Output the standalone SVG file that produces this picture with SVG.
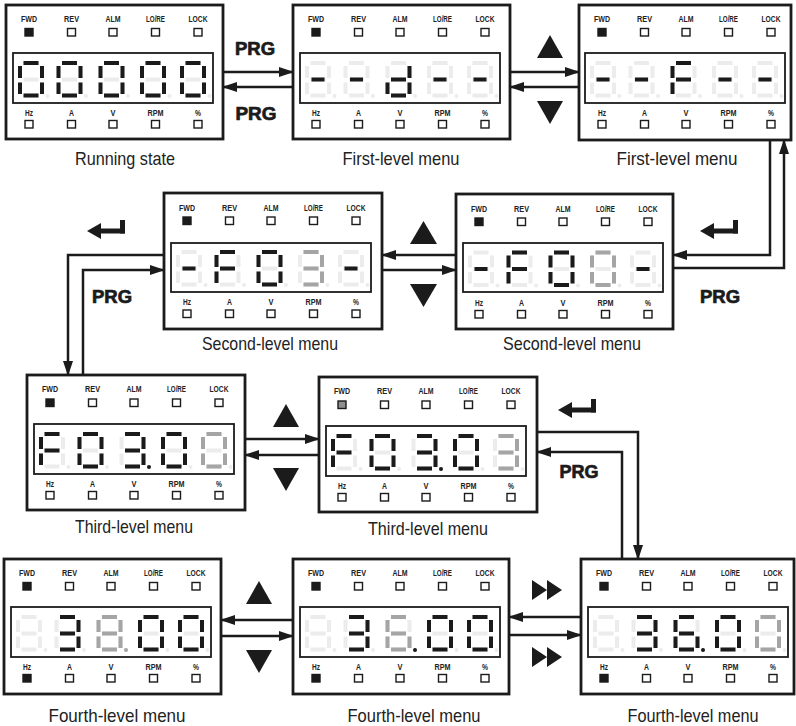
<svg xmlns="http://www.w3.org/2000/svg" width="796" height="726" viewBox="0 0 796 726">
<style>
.frame{fill:#fff;stroke:#1b1b1b;stroke-width:2.8}
.disp{fill:#fff;stroke:#1b1b1b;stroke-width:1.8}
.lbl{font-family:"Liberation Sans",Arial,sans-serif;font-weight:bold;font-size:9.5px;fill:#222;text-anchor:middle}
.ind{fill:#fff;stroke:#1b1b1b;stroke-width:1.4}
.on{fill:#1b1b1b}
.gr{fill:#8f8f8f}
.k{fill:#1b1b1b}
.m{fill:#a5a5a5}
.cap{font-family:"Liberation Sans",Arial,sans-serif;font-size:19px;fill:#222;text-anchor:middle}
.prg{font-family:"Liberation Sans",Arial,sans-serif;font-weight:bold;font-size:18px;fill:#1b1b1b;stroke:#1b1b1b;stroke-width:0.7;text-anchor:middle}
.cn{fill:none;stroke:#1b1b1b;stroke-width:2.5;marker-end:url(#ah)}
.ic{fill:#1b1b1b}
</style>
<defs>
<marker id="ah" viewBox="0 0 15 10" markerWidth="15" markerHeight="10" refX="14" refY="5" orient="auto" markerUnits="userSpaceOnUse"><path d="M0,0 L15,5 L0,10 Z" fill="#1b1b1b"/></marker>
<g id="g8"><rect x="5.5" y="0" width="15" height="4"/><rect x="0" y="5" width="4" height="12"/><rect x="22" y="5" width="4" height="12"/><rect x="5.5" y="16.5" width="15" height="4"/><rect x="0" y="21.5" width="4" height="11.5"/><rect x="22" y="21.5" width="4" height="11.5"/><rect x="5.5" y="32.5" width="15" height="4"/></g>
<g id="base" fill="#ececec"><use href="#g8"/><circle cx="29.5" cy="35" r="2"/></g>
<g id="g0"><rect x="5.5" y="0" width="15" height="4"/><rect x="0" y="5" width="4" height="12"/><rect x="22" y="5" width="4" height="12"/><rect x="0" y="21.5" width="4" height="11.5"/><rect x="22" y="21.5" width="4" height="11.5"/><rect x="5.5" y="32.5" width="15" height="4"/></g>
<g id="g3"><rect x="5.5" y="0" width="15" height="4"/><rect x="22" y="5" width="4" height="12"/><rect x="5.5" y="16.5" width="15" height="4"/><rect x="22" y="21.5" width="4" height="11.5"/><rect x="5.5" y="32.5" width="15" height="4"/></g>
<g id="g6"><rect x="5.5" y="0" width="15" height="4"/><rect x="0" y="5" width="4" height="12"/><rect x="5.5" y="16.5" width="15" height="4"/><rect x="0" y="21.5" width="4" height="11.5"/><rect x="22" y="21.5" width="4" height="11.5"/><rect x="5.5" y="32.5" width="15" height="4"/></g>
<g id="gF"><rect x="5.5" y="0" width="15" height="4"/><rect x="0" y="5" width="4" height="12"/><rect x="5.5" y="16.5" width="15" height="4"/><rect x="0" y="21.5" width="4" height="11.5"/></g>
<g id="gd"><rect x="22" y="5" width="4" height="12"/><rect x="5.5" y="16.5" width="15" height="4"/><rect x="0" y="21.5" width="4" height="11.5"/><rect x="22" y="21.5" width="4" height="11.5"/><rect x="5.5" y="32.5" width="15" height="4"/></g>
<g id="gm"><rect x="6.5" y="16.5" width="13" height="4"/></g>
<circle id="gdp" cx="29.5" cy="35" r="2"/>
<g id="enter"><path d="M0,11 L14,3 L14,19 Z"/><rect x="13" y="8.5" width="25" height="5"/><rect x="33" y="0" width="5" height="13.5"/></g>
<path id="ff" d="M0,0 L15,10 L0,20 Z M15,0 L30,10 L15,20 Z"/>
</defs>
<rect width="796" height="726" fill="#fff"/>

<g id="connectors">
<path class="cn" d="M223,72 H293"/>
<path class="cn" d="M293,87 H223"/>
<path class="cn" d="M510,72 H579"/>
<path class="cn" d="M579,87 H510"/>
<path class="cn" d="M770,140 V255 H673"/>
<path class="cn" d="M673,268 H784 V140"/>
<path class="cn" d="M456,255 H382"/>
<path class="cn" d="M382,270 H456"/>
<path class="cn" d="M164,255 H68 V375"/>
<path class="cn" d="M83,375 V270 H164"/>
<path class="cn" d="M245,439 H319"/>
<path class="cn" d="M319,455 H245"/>
<path class="cn" d="M537,432 H638 V559"/>
<path class="cn" d="M622,559 V452 H537"/>
<path class="cn" d="M581,617 H509"/>
<path class="cn" d="M509,635 H581"/>
<path class="cn" d="M293,620 H221"/>
<path class="cn" d="M221,636 H293"/>
</g>

<g id="connector-labels">
<text class="prg" x="255" y="55" textLength="40" lengthAdjust="spacingAndGlyphs">PRG</text>
<text class="prg" x="256" y="120" textLength="41" lengthAdjust="spacingAndGlyphs">PRG</text>
<path class="ic" d="M537,58 L550,35 L563,58 Z"/>
<path class="ic" d="M537,101 L563,101 L550,124 Z"/>
<use class="ic" href="#enter" x="700" y="220"/>
<text class="prg" x="720" y="303" textLength="40" lengthAdjust="spacingAndGlyphs">PRG</text>
<path class="ic" d="M410,244 L423.5,221 L437,244 Z"/>
<path class="ic" d="M410,284 L437,284 L423.5,307 Z"/>
<use class="ic" href="#enter" x="87" y="220"/>
<text class="prg" x="112" y="303" textLength="40" lengthAdjust="spacingAndGlyphs">PRG</text>
<path class="ic" d="M273,427 L286,404 L299,427 Z"/>
<path class="ic" d="M273,468 L299,468 L286,491 Z"/>
<use class="ic" href="#enter" x="558" y="399"/>
<text class="prg" x="579" y="478" textLength="39" lengthAdjust="spacingAndGlyphs">PRG</text>
<use class="ic" href="#ff" x="532" y="580"/>
<use class="ic" href="#ff" x="532" y="647"/>
<path class="ic" d="M246,604 L259,581 L272,604 Z"/>
<path class="ic" d="M246,650 L272,650 L259,673 Z"/>
</g>

<g id="running-state">
<g transform="translate(6,5)">
<rect class="frame" width="217" height="134"/>
<text class="lbl" x="23" y="16.5" textLength="16" lengthAdjust="spacingAndGlyphs">FWD</text><text class="lbl" x="65.5" y="16.5" textLength="15" lengthAdjust="spacingAndGlyphs">REV</text><text class="lbl" x="107" y="16.5" textLength="15" lengthAdjust="spacingAndGlyphs">ALM</text><text class="lbl" x="149.5" y="16.5" textLength="19" lengthAdjust="spacingAndGlyphs">LO/RE</text><text class="lbl" x="192" y="16.5" textLength="19" lengthAdjust="spacingAndGlyphs">LOCK</text>
<rect class="ind on" x="19" y="23.5" width="8" height="7.5"/><rect class="ind" x="61.5" y="23.5" width="8" height="7.5"/><rect class="ind" x="103" y="23.5" width="8" height="7.5"/><rect class="ind" x="145.5" y="23.5" width="8" height="7.5"/><rect class="ind" x="188" y="23.5" width="8" height="7.5"/>
<rect class="disp" x="7" y="48" width="200" height="50"/>
<use href="#base" x="12" y="56"/><use href="#base" x="50.5" y="56"/><use href="#base" x="92.5" y="56"/><use href="#base" x="134" y="56"/><use href="#base" x="174" y="56"/>
<use class="k" href="#g0" x="12" y="56"/><use class="k" href="#g0" x="50.5" y="56"/><use class="k" href="#g0" x="92.5" y="56"/><use class="k" href="#g0" x="134" y="56"/><use class="k" href="#g0" x="174" y="56"/>
<text class="lbl" x="23" y="111" textLength="8" lengthAdjust="spacingAndGlyphs">Hz</text><text class="lbl" x="65.5" y="111" textLength="5" lengthAdjust="spacingAndGlyphs">A</text><text class="lbl" x="107" y="111" textLength="5" lengthAdjust="spacingAndGlyphs">V</text><text class="lbl" x="149.5" y="111" textLength="16" lengthAdjust="spacingAndGlyphs">RPM</text><text class="lbl" x="192" y="111" textLength="6" lengthAdjust="spacingAndGlyphs">%</text>
<rect class="ind" x="19" y="115.5" width="8" height="7.5"/><rect class="ind" x="61.5" y="115.5" width="8" height="7.5"/><rect class="ind" x="103" y="115.5" width="8" height="7.5"/><rect class="ind" x="145.5" y="115.5" width="8" height="7.5"/><rect class="ind" x="188" y="115.5" width="8" height="7.5"/>
</g>
<text class="cap" x="125" y="165" textLength="100" lengthAdjust="spacingAndGlyphs">Running state</text>
</g>

<g id="first-level-1">
<g transform="translate(293,5)">
<rect class="frame" width="217" height="134"/>
<text class="lbl" x="23" y="16.5" textLength="16" lengthAdjust="spacingAndGlyphs">FWD</text><text class="lbl" x="65.5" y="16.5" textLength="15" lengthAdjust="spacingAndGlyphs">REV</text><text class="lbl" x="107" y="16.5" textLength="15" lengthAdjust="spacingAndGlyphs">ALM</text><text class="lbl" x="149.5" y="16.5" textLength="19" lengthAdjust="spacingAndGlyphs">LO/RE</text><text class="lbl" x="192" y="16.5" textLength="19" lengthAdjust="spacingAndGlyphs">LOCK</text>
<rect class="ind on" x="19" y="23.5" width="8" height="7.5"/><rect class="ind" x="61.5" y="23.5" width="8" height="7.5"/><rect class="ind" x="103" y="23.5" width="8" height="7.5"/><rect class="ind" x="145.5" y="23.5" width="8" height="7.5"/><rect class="ind" x="188" y="23.5" width="8" height="7.5"/>
<rect class="disp" x="7" y="48" width="200" height="50"/>
<use href="#base" x="12" y="56"/><use href="#base" x="50.5" y="56"/><use href="#base" x="92.5" y="56"/><use href="#base" x="134" y="56"/><use href="#base" x="174" y="56"/>
<use class="k" href="#gm" x="12" y="56"/><use class="k" href="#gm" x="50.5" y="56"/><use class="k" href="#gd" x="92.5" y="56"/><use class="k" href="#gm" x="134" y="56"/><use class="k" href="#gm" x="174" y="56"/>
<text class="lbl" x="23" y="111" textLength="8" lengthAdjust="spacingAndGlyphs">Hz</text><text class="lbl" x="65.5" y="111" textLength="5" lengthAdjust="spacingAndGlyphs">A</text><text class="lbl" x="107" y="111" textLength="5" lengthAdjust="spacingAndGlyphs">V</text><text class="lbl" x="149.5" y="111" textLength="16" lengthAdjust="spacingAndGlyphs">RPM</text><text class="lbl" x="192" y="111" textLength="6" lengthAdjust="spacingAndGlyphs">%</text>
<rect class="ind" x="19" y="115.5" width="8" height="7.5"/><rect class="ind" x="61.5" y="115.5" width="8" height="7.5"/><rect class="ind" x="103" y="115.5" width="8" height="7.5"/><rect class="ind" x="145.5" y="115.5" width="8" height="7.5"/><rect class="ind" x="188" y="115.5" width="8" height="7.5"/>
</g>
<text class="cap" x="401" y="165" textLength="117" lengthAdjust="spacingAndGlyphs">First-level menu</text>
</g>

<g id="first-level-2">
<g transform="translate(579,5)">
<rect class="frame" width="212" height="135"/>
<text class="lbl" x="23" y="16.5" textLength="16" lengthAdjust="spacingAndGlyphs">FWD</text><text class="lbl" x="65.5" y="16.5" textLength="15" lengthAdjust="spacingAndGlyphs">REV</text><text class="lbl" x="107" y="16.5" textLength="15" lengthAdjust="spacingAndGlyphs">ALM</text><text class="lbl" x="149.5" y="16.5" textLength="19" lengthAdjust="spacingAndGlyphs">LO/RE</text><text class="lbl" x="192" y="16.5" textLength="19" lengthAdjust="spacingAndGlyphs">LOCK</text>
<rect class="ind on" x="19" y="23.5" width="8" height="7.5"/><rect class="ind" x="61.5" y="23.5" width="8" height="7.5"/><rect class="ind" x="103" y="23.5" width="8" height="7.5"/><rect class="ind" x="145.5" y="23.5" width="8" height="7.5"/><rect class="ind" x="188" y="23.5" width="8" height="7.5"/>
<rect class="disp" x="6" y="48" width="200" height="50"/>
<use href="#base" x="11" y="56"/><use href="#base" x="49.5" y="56"/><use href="#base" x="91.5" y="56"/><use href="#base" x="133" y="56"/><use href="#base" x="173" y="56"/>
<use class="k" href="#gm" x="11" y="56"/><use class="k" href="#gm" x="49.5" y="56"/><use class="k" href="#gF" x="91.5" y="56"/><use class="k" href="#gm" x="133" y="56"/><use class="k" href="#gm" x="173" y="56"/>
<text class="lbl" x="23" y="111" textLength="8" lengthAdjust="spacingAndGlyphs">Hz</text><text class="lbl" x="65.5" y="111" textLength="5" lengthAdjust="spacingAndGlyphs">A</text><text class="lbl" x="107" y="111" textLength="5" lengthAdjust="spacingAndGlyphs">V</text><text class="lbl" x="149.5" y="111" textLength="16" lengthAdjust="spacingAndGlyphs">RPM</text><text class="lbl" x="192" y="111" textLength="6" lengthAdjust="spacingAndGlyphs">%</text>
<rect class="ind" x="19" y="115.5" width="8" height="7.5"/><rect class="ind" x="61.5" y="115.5" width="8" height="7.5"/><rect class="ind" x="103" y="115.5" width="8" height="7.5"/><rect class="ind" x="145.5" y="115.5" width="8" height="7.5"/><rect class="ind" x="188" y="115.5" width="8" height="7.5"/>
</g>
<text class="cap" x="677" y="165" textLength="121" lengthAdjust="spacingAndGlyphs">First-level menu</text>
</g>

<g id="second-level-1">
<g transform="translate(164,193)">
<rect class="frame" width="218" height="136"/>
<text class="lbl" x="23" y="17.5" textLength="16" lengthAdjust="spacingAndGlyphs">FWD</text><text class="lbl" x="65.5" y="17.5" textLength="15" lengthAdjust="spacingAndGlyphs">REV</text><text class="lbl" x="107" y="17.5" textLength="15" lengthAdjust="spacingAndGlyphs">ALM</text><text class="lbl" x="149.5" y="17.5" textLength="19" lengthAdjust="spacingAndGlyphs">LO/RE</text><text class="lbl" x="192" y="17.5" textLength="19" lengthAdjust="spacingAndGlyphs">LOCK</text>
<rect class="ind on" x="19" y="24" width="8" height="7.5"/><rect class="ind" x="61.5" y="24" width="8" height="7.5"/><rect class="ind" x="103" y="24" width="8" height="7.5"/><rect class="ind" x="145.5" y="24" width="8" height="7.5"/><rect class="ind" x="188" y="24" width="8" height="7.5"/>
<rect class="disp" x="7" y="50" width="200" height="49"/>
<use href="#base" x="12" y="57"/><use href="#base" x="50.5" y="57"/><use href="#base" x="92.5" y="57"/><use href="#base" x="134" y="57"/><use href="#base" x="174" y="57"/>
<use class="k" href="#gm" x="12" y="57"/><use class="k" href="#gF" x="50.5" y="57"/><use class="k" href="#g0" x="92.5" y="57"/><use class="m" href="#g3" x="134" y="57"/><use class="k" href="#gm" x="174" y="57"/>
<text class="lbl" x="23" y="112" textLength="8" lengthAdjust="spacingAndGlyphs">Hz</text><text class="lbl" x="65.5" y="112" textLength="5" lengthAdjust="spacingAndGlyphs">A</text><text class="lbl" x="107" y="112" textLength="5" lengthAdjust="spacingAndGlyphs">V</text><text class="lbl" x="149.5" y="112" textLength="16" lengthAdjust="spacingAndGlyphs">RPM</text><text class="lbl" x="192" y="112" textLength="6" lengthAdjust="spacingAndGlyphs">%</text>
<rect class="ind" x="19" y="117" width="8" height="7.5"/><rect class="ind" x="61.5" y="117" width="8" height="7.5"/><rect class="ind" x="103" y="117" width="8" height="7.5"/><rect class="ind" x="145.5" y="117" width="8" height="7.5"/><rect class="ind" x="188" y="117" width="8" height="7.5"/>
</g>
<text class="cap" x="270" y="350" textLength="136" lengthAdjust="spacingAndGlyphs">Second-level menu</text>
</g>

<g id="second-level-2">
<g transform="translate(456,194)">
<rect class="frame" width="217" height="135"/>
<text class="lbl" x="23" y="17.5" textLength="16" lengthAdjust="spacingAndGlyphs">FWD</text><text class="lbl" x="65.5" y="17.5" textLength="15" lengthAdjust="spacingAndGlyphs">REV</text><text class="lbl" x="107" y="17.5" textLength="15" lengthAdjust="spacingAndGlyphs">ALM</text><text class="lbl" x="149.5" y="17.5" textLength="19" lengthAdjust="spacingAndGlyphs">LO/RE</text><text class="lbl" x="192" y="17.5" textLength="19" lengthAdjust="spacingAndGlyphs">LOCK</text>
<rect class="ind on" x="19" y="24" width="8" height="7.5"/><rect class="ind" x="61.5" y="24" width="8" height="7.5"/><rect class="ind" x="103" y="24" width="8" height="7.5"/><rect class="ind" x="145.5" y="24" width="8" height="7.5"/><rect class="ind" x="188" y="24" width="8" height="7.5"/>
<rect class="disp" x="7" y="49" width="200" height="49"/>
<use href="#base" x="12" y="56.5"/><use href="#base" x="50.5" y="56.5"/><use href="#base" x="92.5" y="56.5"/><use href="#base" x="134" y="56.5"/><use href="#base" x="174" y="56.5"/>
<use class="k" href="#gm" x="12" y="56.5"/><use class="k" href="#gF" x="50.5" y="56.5"/><use class="k" href="#g0" x="92.5" y="56.5"/><use class="m" href="#g0" x="134" y="56.5"/><use class="k" href="#gm" x="174" y="56.5"/>
<text class="lbl" x="23" y="112" textLength="8" lengthAdjust="spacingAndGlyphs">Hz</text><text class="lbl" x="65.5" y="112" textLength="5" lengthAdjust="spacingAndGlyphs">A</text><text class="lbl" x="107" y="112" textLength="5" lengthAdjust="spacingAndGlyphs">V</text><text class="lbl" x="149.5" y="112" textLength="16" lengthAdjust="spacingAndGlyphs">RPM</text><text class="lbl" x="192" y="112" textLength="6" lengthAdjust="spacingAndGlyphs">%</text>
<rect class="ind" x="19" y="116.5" width="8" height="7.5"/><rect class="ind" x="61.5" y="116.5" width="8" height="7.5"/><rect class="ind" x="103" y="116.5" width="8" height="7.5"/><rect class="ind" x="145.5" y="116.5" width="8" height="7.5"/><rect class="ind" x="188" y="116.5" width="8" height="7.5"/>
</g>
<text class="cap" x="572" y="350" textLength="138" lengthAdjust="spacingAndGlyphs">Second-level menu</text>
</g>

<g id="third-level-1">
<g transform="translate(27,375)">
<rect class="frame" width="218" height="135"/>
<text class="lbl" x="23" y="17" textLength="16" lengthAdjust="spacingAndGlyphs">FWD</text><text class="lbl" x="65.5" y="17" textLength="15" lengthAdjust="spacingAndGlyphs">REV</text><text class="lbl" x="107" y="17" textLength="15" lengthAdjust="spacingAndGlyphs">ALM</text><text class="lbl" x="149.5" y="17" textLength="19" lengthAdjust="spacingAndGlyphs">LO/RE</text><text class="lbl" x="192" y="17" textLength="19" lengthAdjust="spacingAndGlyphs">LOCK</text>
<rect class="ind on" x="19" y="24" width="8" height="7.5"/><rect class="ind" x="61.5" y="24" width="8" height="7.5"/><rect class="ind" x="103" y="24" width="8" height="7.5"/><rect class="ind" x="145.5" y="24" width="8" height="7.5"/><rect class="ind" x="188" y="24" width="8" height="7.5"/>
<rect class="disp" x="7" y="49" width="200" height="50"/>
<use href="#base" x="12" y="57"/><use href="#base" x="50.5" y="57"/><use href="#base" x="92.5" y="57"/><use href="#base" x="134" y="57"/><use href="#base" x="174" y="57"/>
<use class="k" href="#gF" x="12" y="57"/><use class="k" href="#g0" x="50.5" y="57"/><use class="k" href="#g3" x="92.5" y="57"/><use class="k" href="#gdp" x="92.5" y="57"/><use class="k" href="#g0" x="134" y="57"/><use class="m" href="#g0" x="174" y="57"/>
<text class="lbl" x="23" y="112" textLength="8" lengthAdjust="spacingAndGlyphs">Hz</text><text class="lbl" x="65.5" y="112" textLength="5" lengthAdjust="spacingAndGlyphs">A</text><text class="lbl" x="107" y="112" textLength="5" lengthAdjust="spacingAndGlyphs">V</text><text class="lbl" x="149.5" y="112" textLength="16" lengthAdjust="spacingAndGlyphs">RPM</text><text class="lbl" x="192" y="112" textLength="6" lengthAdjust="spacingAndGlyphs">%</text>
<rect class="ind" x="19" y="116.5" width="8" height="7.5"/><rect class="ind" x="61.5" y="116.5" width="8" height="7.5"/><rect class="ind" x="103" y="116.5" width="8" height="7.5"/><rect class="ind" x="145.5" y="116.5" width="8" height="7.5"/><rect class="ind" x="188" y="116.5" width="8" height="7.5"/>
</g>
<text class="cap" x="134" y="533" textLength="118" lengthAdjust="spacingAndGlyphs">Third-level menu</text>
</g>

<g id="third-level-2">
<g transform="translate(319,377)">
<rect class="frame" width="218" height="135"/>
<text class="lbl" x="23" y="17" textLength="16" lengthAdjust="spacingAndGlyphs">FWD</text><text class="lbl" x="65.5" y="17" textLength="15" lengthAdjust="spacingAndGlyphs">REV</text><text class="lbl" x="107" y="17" textLength="15" lengthAdjust="spacingAndGlyphs">ALM</text><text class="lbl" x="149.5" y="17" textLength="19" lengthAdjust="spacingAndGlyphs">LO/RE</text><text class="lbl" x="192" y="17" textLength="19" lengthAdjust="spacingAndGlyphs">LOCK</text>
<rect class="ind gr" x="19" y="24" width="8" height="7.5"/><rect class="ind" x="61.5" y="24" width="8" height="7.5"/><rect class="ind" x="103" y="24" width="8" height="7.5"/><rect class="ind" x="145.5" y="24" width="8" height="7.5"/><rect class="ind" x="188" y="24" width="8" height="7.5"/>
<rect class="disp" x="7" y="49" width="200" height="50"/>
<use href="#base" x="12" y="57"/><use href="#base" x="50.5" y="57"/><use href="#base" x="92.5" y="57"/><use href="#base" x="134" y="57"/><use href="#base" x="174" y="57"/>
<use class="k" href="#gF" x="12" y="57"/><use class="k" href="#g0" x="50.5" y="57"/><use class="k" href="#g3" x="92.5" y="57"/><use class="k" href="#gdp" x="92.5" y="57"/><use class="k" href="#g0" x="134" y="57"/><use class="m" href="#g3" x="174" y="57"/>
<text class="lbl" x="23" y="112" textLength="8" lengthAdjust="spacingAndGlyphs">Hz</text><text class="lbl" x="65.5" y="112" textLength="5" lengthAdjust="spacingAndGlyphs">A</text><text class="lbl" x="107" y="112" textLength="5" lengthAdjust="spacingAndGlyphs">V</text><text class="lbl" x="149.5" y="112" textLength="16" lengthAdjust="spacingAndGlyphs">RPM</text><text class="lbl" x="192" y="112" textLength="6" lengthAdjust="spacingAndGlyphs">%</text>
<rect class="ind" x="19" y="116.5" width="8" height="7.5"/><rect class="ind" x="61.5" y="116.5" width="8" height="7.5"/><rect class="ind" x="103" y="116.5" width="8" height="7.5"/><rect class="ind" x="145.5" y="116.5" width="8" height="7.5"/><rect class="ind" x="188" y="116.5" width="8" height="7.5"/>
</g>
<text class="cap" x="428" y="535" textLength="120" lengthAdjust="spacingAndGlyphs">Third-level menu</text>
</g>

<g id="fourth-level-1">
<g transform="translate(4,559)">
<rect class="frame" width="217" height="135"/>
<text class="lbl" x="23" y="16.5" textLength="16" lengthAdjust="spacingAndGlyphs">FWD</text><text class="lbl" x="65.5" y="16.5" textLength="15" lengthAdjust="spacingAndGlyphs">REV</text><text class="lbl" x="107" y="16.5" textLength="15" lengthAdjust="spacingAndGlyphs">ALM</text><text class="lbl" x="149.5" y="16.5" textLength="19" lengthAdjust="spacingAndGlyphs">LO/RE</text><text class="lbl" x="192" y="16.5" textLength="19" lengthAdjust="spacingAndGlyphs">LOCK</text>
<rect class="ind on" x="19" y="23.5" width="8" height="7.5"/><rect class="ind" x="61.5" y="23.5" width="8" height="7.5"/><rect class="ind" x="103" y="23.5" width="8" height="7.5"/><rect class="ind" x="145.5" y="23.5" width="8" height="7.5"/><rect class="ind" x="188" y="23.5" width="8" height="7.5"/>
<rect class="disp" x="7" y="48" width="200" height="50"/>
<use href="#base" x="12" y="56"/><use href="#base" x="50.5" y="56"/><use href="#base" x="92.5" y="56"/><use href="#base" x="134" y="56"/><use href="#base" x="174" y="56"/>
<use class="k" href="#g3" x="50.5" y="56"/><use class="m" href="#g8" x="92.5" y="56"/><use class="m" href="#gdp" x="92.5" y="56"/><use class="k" href="#g0" x="134" y="56"/><use class="k" href="#g0" x="174" y="56"/>
<text class="lbl" x="23" y="111" textLength="8" lengthAdjust="spacingAndGlyphs">Hz</text><text class="lbl" x="65.5" y="111" textLength="5" lengthAdjust="spacingAndGlyphs">A</text><text class="lbl" x="107" y="111" textLength="5" lengthAdjust="spacingAndGlyphs">V</text><text class="lbl" x="149.5" y="111" textLength="16" lengthAdjust="spacingAndGlyphs">RPM</text><text class="lbl" x="192" y="111" textLength="6" lengthAdjust="spacingAndGlyphs">%</text>
<rect class="ind on" x="19" y="115.5" width="8" height="7.5"/><rect class="ind" x="61.5" y="115.5" width="8" height="7.5"/><rect class="ind" x="103" y="115.5" width="8" height="7.5"/><rect class="ind" x="145.5" y="115.5" width="8" height="7.5"/><rect class="ind" x="188" y="115.5" width="8" height="7.5"/>
</g>
<text class="cap" x="117" y="722" textLength="137" lengthAdjust="spacingAndGlyphs">Fourth-level menu</text>
</g>

<g id="fourth-level-2">
<g transform="translate(293,559)">
<rect class="frame" width="216" height="135"/>
<text class="lbl" x="23" y="16.5" textLength="16" lengthAdjust="spacingAndGlyphs">FWD</text><text class="lbl" x="65.5" y="16.5" textLength="15" lengthAdjust="spacingAndGlyphs">REV</text><text class="lbl" x="107" y="16.5" textLength="15" lengthAdjust="spacingAndGlyphs">ALM</text><text class="lbl" x="149.5" y="16.5" textLength="19" lengthAdjust="spacingAndGlyphs">LO/RE</text><text class="lbl" x="192" y="16.5" textLength="19" lengthAdjust="spacingAndGlyphs">LOCK</text>
<rect class="ind on" x="19" y="23.5" width="8" height="7.5"/><rect class="ind" x="61.5" y="23.5" width="8" height="7.5"/><rect class="ind" x="103" y="23.5" width="8" height="7.5"/><rect class="ind" x="145.5" y="23.5" width="8" height="7.5"/><rect class="ind" x="188" y="23.5" width="8" height="7.5"/>
<rect class="disp" x="7" y="48" width="200" height="50"/>
<use href="#base" x="12" y="56"/><use href="#base" x="50.5" y="56"/><use href="#base" x="92.5" y="56"/><use href="#base" x="134" y="56"/><use href="#base" x="174" y="56"/>
<use class="k" href="#g3" x="50.5" y="56"/><use class="m" href="#g6" x="92.5" y="56"/><use class="k" href="#gdp" x="92.5" y="56"/><use class="k" href="#g0" x="134" y="56"/><use class="k" href="#g0" x="174" y="56"/>
<text class="lbl" x="23" y="111" textLength="8" lengthAdjust="spacingAndGlyphs">Hz</text><text class="lbl" x="65.5" y="111" textLength="5" lengthAdjust="spacingAndGlyphs">A</text><text class="lbl" x="107" y="111" textLength="5" lengthAdjust="spacingAndGlyphs">V</text><text class="lbl" x="149.5" y="111" textLength="16" lengthAdjust="spacingAndGlyphs">RPM</text><text class="lbl" x="192" y="111" textLength="6" lengthAdjust="spacingAndGlyphs">%</text>
<rect class="ind on" x="19" y="115.5" width="8" height="7.5"/><rect class="ind" x="61.5" y="115.5" width="8" height="7.5"/><rect class="ind" x="103" y="115.5" width="8" height="7.5"/><rect class="ind" x="145.5" y="115.5" width="8" height="7.5"/><rect class="ind" x="188" y="115.5" width="8" height="7.5"/>
</g>
<text class="cap" x="414" y="722" textLength="133" lengthAdjust="spacingAndGlyphs">Fourth-level menu</text>
</g>

<g id="fourth-level-3">
<g transform="translate(581,559)">
<rect class="frame" width="213" height="135"/>
<text class="lbl" x="23" y="16.5" textLength="16" lengthAdjust="spacingAndGlyphs">FWD</text><text class="lbl" x="65.5" y="16.5" textLength="15" lengthAdjust="spacingAndGlyphs">REV</text><text class="lbl" x="107" y="16.5" textLength="15" lengthAdjust="spacingAndGlyphs">ALM</text><text class="lbl" x="149.5" y="16.5" textLength="19" lengthAdjust="spacingAndGlyphs">LO/RE</text><text class="lbl" x="192" y="16.5" textLength="19" lengthAdjust="spacingAndGlyphs">LOCK</text>
<rect class="ind on" x="19" y="23.5" width="8" height="7.5"/><rect class="ind" x="61.5" y="23.5" width="8" height="7.5"/><rect class="ind" x="103" y="23.5" width="8" height="7.5"/><rect class="ind" x="145.5" y="23.5" width="8" height="7.5"/><rect class="ind" x="188" y="23.5" width="8" height="7.5"/>
<rect class="disp" x="7" y="48" width="200" height="50"/>
<use href="#base" x="12" y="56"/><use href="#base" x="50.5" y="56"/><use href="#base" x="92.5" y="56"/><use href="#base" x="134" y="56"/><use href="#base" x="174" y="56"/>
<use class="k" href="#g3" x="50.5" y="56"/><use class="k" href="#g6" x="92.5" y="56"/><use class="k" href="#gdp" x="92.5" y="56"/><use class="k" href="#g0" x="134" y="56"/><use class="m" href="#g0" x="174" y="56"/>
<text class="lbl" x="23" y="111" textLength="8" lengthAdjust="spacingAndGlyphs">Hz</text><text class="lbl" x="65.5" y="111" textLength="5" lengthAdjust="spacingAndGlyphs">A</text><text class="lbl" x="107" y="111" textLength="5" lengthAdjust="spacingAndGlyphs">V</text><text class="lbl" x="149.5" y="111" textLength="16" lengthAdjust="spacingAndGlyphs">RPM</text><text class="lbl" x="192" y="111" textLength="6" lengthAdjust="spacingAndGlyphs">%</text>
<rect class="ind on" x="19" y="115.5" width="8" height="7.5"/><rect class="ind" x="61.5" y="115.5" width="8" height="7.5"/><rect class="ind" x="103" y="115.5" width="8" height="7.5"/><rect class="ind" x="145.5" y="115.5" width="8" height="7.5"/><rect class="ind" x="188" y="115.5" width="8" height="7.5"/>
</g>
<text class="cap" x="693" y="722" textLength="131" lengthAdjust="spacingAndGlyphs">Fourth-level menu</text>
</g>
</svg>
